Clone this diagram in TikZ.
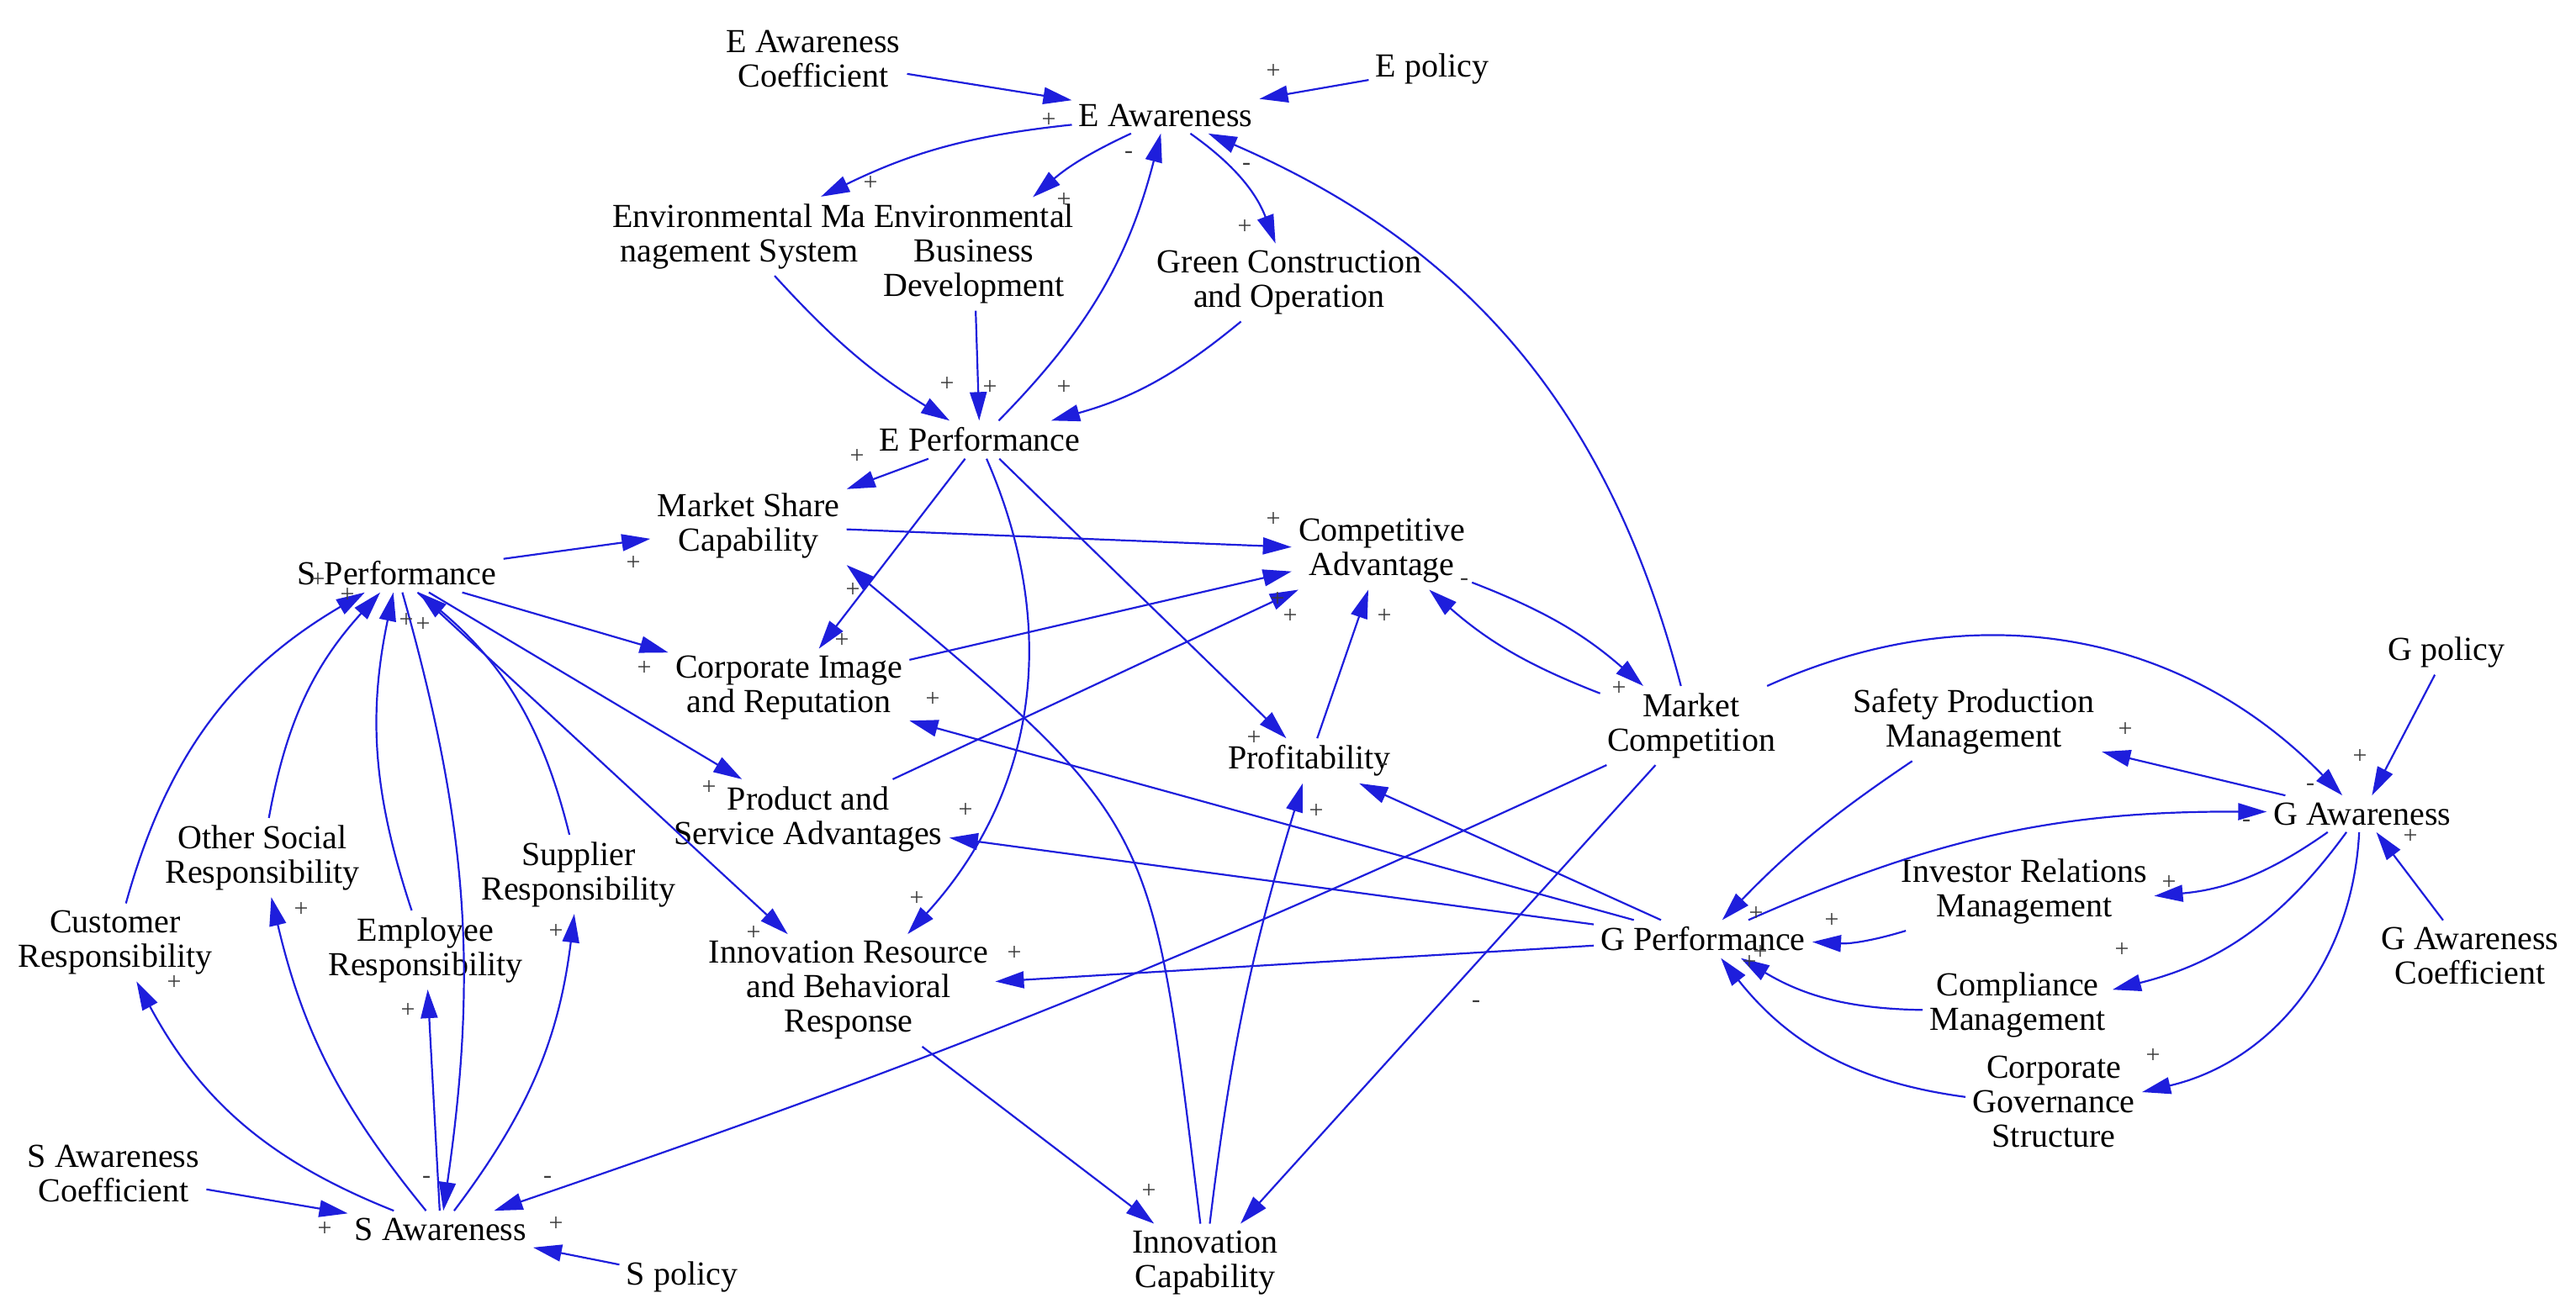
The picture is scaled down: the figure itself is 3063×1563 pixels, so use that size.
\documentclass[tikz,border=0pt]{standalone}
\usepackage{fontspec}
\setmainfont{Liberation Serif}
\usetikzlibrary{arrows.meta}
\definecolor{lnk}{RGB}{30,30,220}
\definecolor{polc}{RGB}{60,60,60}
\begin{document}
\begin{tikzpicture}[x=0.5pt,y=0.5pt,
  var/.style={align=center,inner sep=4pt,font=\fontsize{20}{20.5}\selectfont},
  pl/.style={inner sep=0pt,text=polc,font=\fontsize{15}{15}\selectfont},
  ar/.style={color=lnk,line width=1.1pt,-{Triangle[length=17pt,width=10pt]}}]
\fill[white] (0,0) rectangle (3063,-1563);
\useasboundingbox (0,0) rectangle (3063,-1563);
% variables
\node[var] (EAC) at (967,-70) {E Awareness\\Coefficient};
\node[var] (EPol) at (1703,-82) {E policy};
\node[var] (EA) at (1386,-137) {E Awareness};
\node[var] (EMS) at (879,-281) {Environmental Ma\\nagement System};
\node[var] (EBD) at (1158,-302) {Environmental\\Business\\Development};
\node[var] (GCO) at (1533,-336) {Green Construction\\and Operation};
\node[var] (EPf) at (1165,-523) {E Performance};
\node[var] (MSC) at (890,-625) {Market Share\\Capability};
\node[var] (CA) at (1643,-655) {Competitive\\Advantage};
\node[var] (SPf) at (472,-682) {S Performance};
\node[var] (CIR) at (938,-818) {Corporate Image\\and Reputation};
\node[var] (MC) at (2011,-863) {Market\\Competition};
\node[var] (SPM) at (2347,-858) {Safety Production\\Management};
\node[var] (GPol) at (2909,-776) {G policy};
\node[var] (GA) at (2809,-968) {G Awareness};
\node[var] (Prof) at (1557,-905) {Profitability};
\node[var] (PSA) at (961,-974) {Product and\\Service Advantages};
\node[var] (OSR) at (312,-1020) {Other Social\\Responsibility};
\node[var] (SR) at (688,-1040) {Supplier\\Responsibility};
\node[var] (CR) at (137,-1121) {Customer\\Responsibility};
\node[var] (ER) at (506,-1130) {Employee\\Responsibility};
\node[var] (IRM) at (2407,-1060) {Investor Relations\\Management};
\node[var] (GPf) at (2025,-1117) {G Performance};
\node[var] (GAC) at (2937,-1137) {G Awareness\\Coefficient};
\node[var] (IRBR) at (1009,-1178) {Innovation Resource\\and Behavioral\\Response};
\node[var] (CM) at (2399,-1195) {Compliance\\Management};
\node[var] (CGS) at (2442,-1310) {Corporate\\Governance\\Structure};
\node[var] (SAC) at (135,-1396) {S Awareness\\Coefficient};
\node[var] (SA) at (524,-1462) {S Awareness};
\node[var] (SPol) at (811,-1519) {S policy};
\node[var] (IC) at (1433,-1502) {Innovation\\Capability};
% E links
\draw[ar] (EAC) -- (EA);
\draw[ar] (EPol) -- (EA);
\draw[ar] (EA) to[bend right=10] (EMS);
\draw[ar] (EA) to[bend right=8] (EBD);
\draw[ar] (EPf) to[bend right=15] (EA);
\draw[ar] (EA) to[bend left=17] (GCO);
\draw[ar] (MC) to[bend right=26] (EA);
\draw[ar] (EMS) to[bend right=8] (EPf);
\draw[ar] (EBD) -- (EPf);
\draw[ar] (GCO) to[bend left=12] (EPf);
\draw[ar] (EPf) -- (MSC);
\draw[ar] (EPf) -- (CIR);
\draw[ar] (EPf) to[bend left=33] (IRBR);
\draw[ar] (EPf) -- (Prof);
% middle links
\draw[ar] (MSC) -- (CA);
\draw[ar] (CIR) -- (CA);
\draw[ar] (PSA) -- (CA);
\draw[ar] (Prof) -- (CA);
\draw[ar] (CA) to[bend left=10] (MC);
\draw[ar] (MC) to[bend left=10] (CA);
\draw[ar] (MC) to[bend left=35] (GA);
\draw[ar] (MC) -- (IC);
\draw[ar] (MC) to[bend left=3] (SA);
\draw[ar] (IC) to[bend left=5] (Prof);
\draw[ar] (IC) to[out=97,in=-40,looseness=1.4] (MSC.south east);
\draw[ar] (IRBR) -- (IC);
% G links
\draw[ar] (GPol) -- (GA);
\draw[ar] (GAC) -- (GA);
\draw[ar] (GA) -- (SPM);
\draw[ar] (GPf) to[bend left=12] (GA);
\draw[ar] (SPM) to[bend right=6] (GPf);
\draw[ar] (GA) to[bend left=15] (IRM);
\draw[ar] (IRM) to[bend left=10] (GPf);
\draw[ar] (GA) to[bend left=20] (CM);
\draw[ar] (GA) to[bend left=37] (CGS);
\draw[ar] (CM) to[bend left=15] (GPf);
\draw[ar] (CGS) to[bend left=22] (GPf);
\draw[ar] (GPf) -- (CIR);
\draw[ar] (GPf) -- (PSA);
\draw[ar] (GPf) -- (Prof);
\draw[ar] (GPf) -- (IRBR);
% S links
\draw[ar] (SAC) -- (SA);
\draw[ar] (SPol) -- (SA);
\draw[ar] (SA) to[bend left=20] (CR);
\draw[ar] (CR) to[bend left=22] (SPf);
\draw[ar] (SA) to[bend left=13] (OSR);
\draw[ar] (OSR) to[bend left=16] (SPf);
\draw[ar] (SA) -- (ER);
\draw[ar] (ER) to[bend left=15] (SPf);
\draw[ar] (SA) to[bend right=15] (SR);
\draw[ar] (SR) to[bend right=18] (SPf);
\draw[ar] (SPf) to[bend left=12] (SA);
\draw[ar] (SPf) -- (MSC);
\draw[ar] (SPf) -- (CIR);
\draw[ar] (SPf) -- (PSA);
\draw[ar] (SPf) -- (IRBR);
% polarity signs
\foreach \px/\py/\s [count=\i] in {
 1514/85/+, 1247/143/+, 1035/218/+, 1265/238/+, 1342/184/-, 1482/198/-,
 1480/270/+, 1126/457/+, 1177/461/+, 1265/461/+, 1019/543/+,
 1014/702/+, 753/670/+, 1001/762/+, 766/795/+, 1109/832/+, 843/937/+,
 1148/964/+, 1090/1069/+, 896/1110/+, 1206/1134/+, 1514/618/+, 1519/713/+,
 1534/733/+, 1646/733/+, 1491/878/+, 1565/965/+, 1645/912/-, 1925/819/+,
 1741/692/-, 1366/1417/+, 1755/1194/-, 651/1403/-,
 2806/900/+, 2866/995/+, 2527/868/+, 2747/936/-, 2671/979/-, 2579/1050/+,
 2178/1095/+, 2523/1130/+, 2560/1256/+, 2088/1087/+, 2093/1133/+, 2080/1145/+,
 386/1462/+, 661/1456/+, 507/1403/-, 207/1169/+, 358/1082/+, 485/1202/+,
 661/1108/+, 378/690/+, 413/708/+, 483/738/+, 503/743/+}
 \node[pl] (pol\i) at (\px,-\py) {\s};
\end{tikzpicture}
\end{document}
